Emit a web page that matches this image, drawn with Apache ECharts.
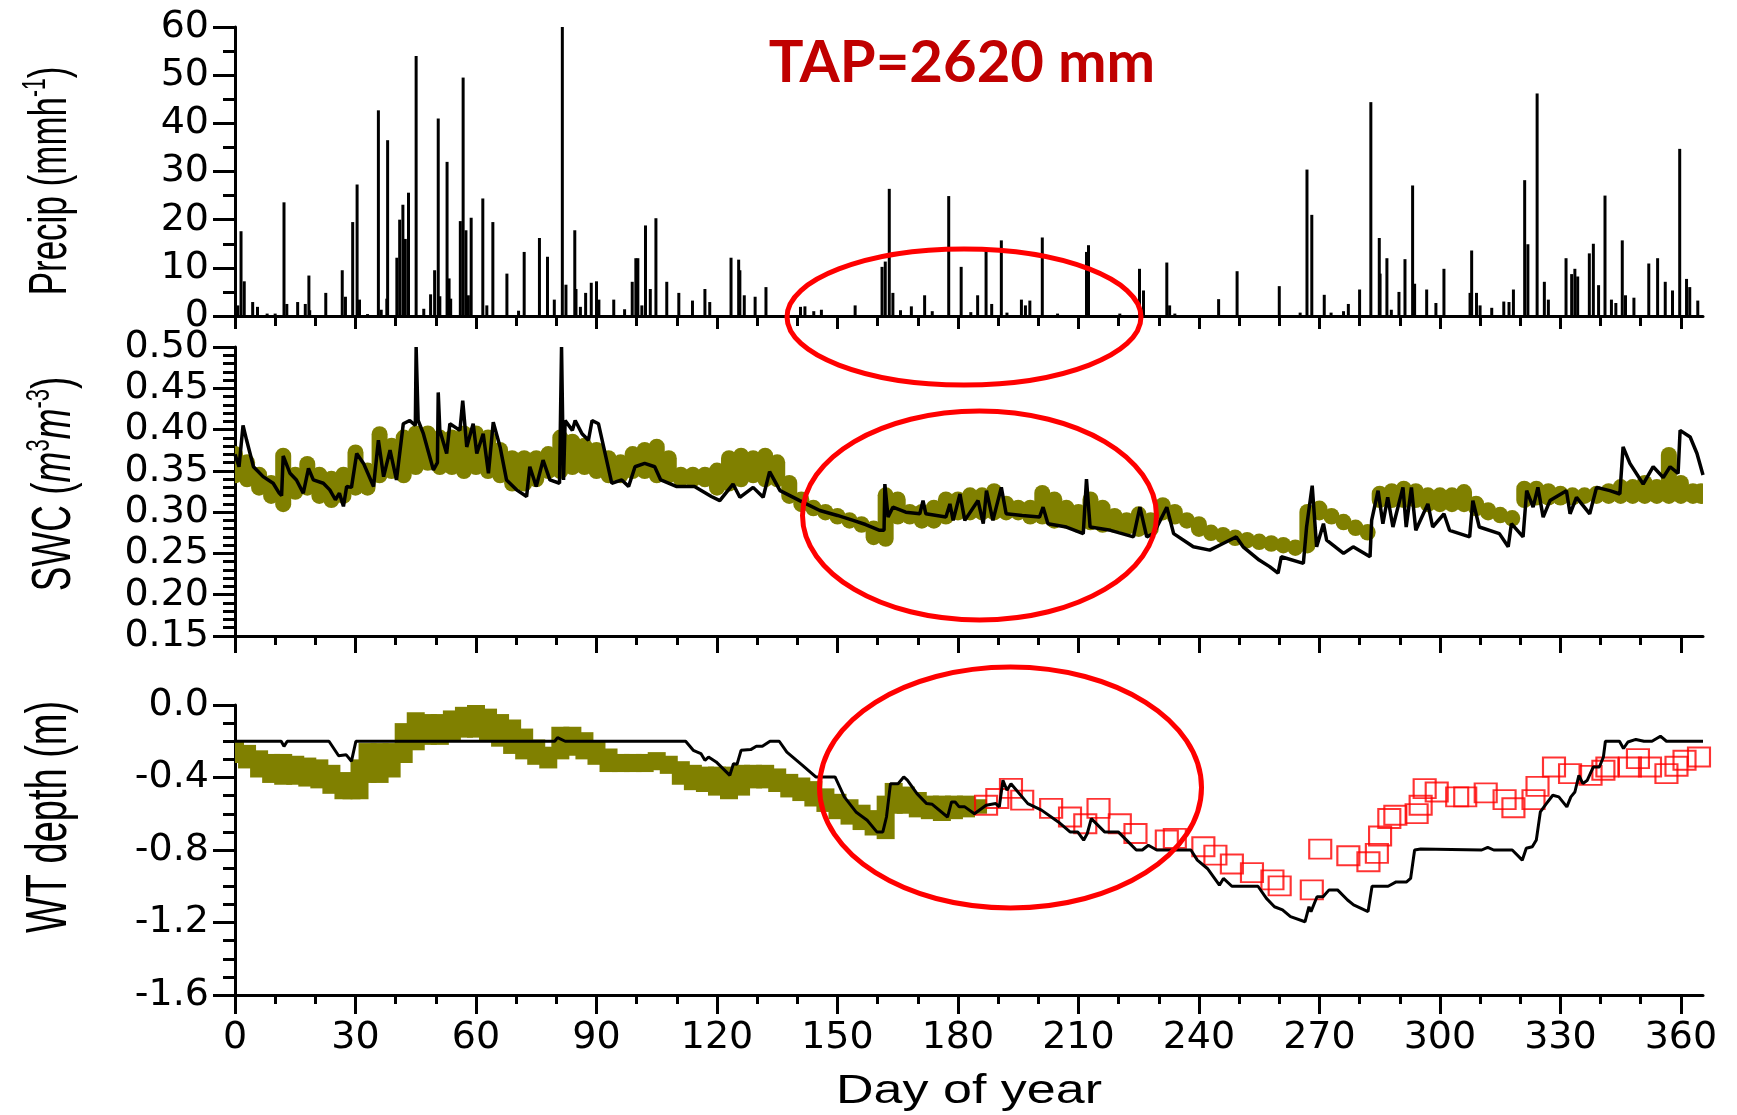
<!DOCTYPE html>
<html><head><meta charset="utf-8">
<script src="https://cdn.jsdelivr.net/npm/echarts@6/dist/echarts.min.js"></script>
<style>html,body{margin:0;padding:0;background:#fff}#c{width:1737px;height:1115px}</style>
</head><body><div id="c"></div>
<script>
// ---------- tick labels ----------
const xTickMajor = [0,30,60,90,120,150,180,210,240,270,300,330,360];
const xTickMinor = [10,20,40,50,70,80,100,110,130,140,160,170,190,200,220,230,250,260,280,290,310,320,340,350];

// ---------- precipitation (day, mm/h) ----------
const precipDay = [0.7,1.5,2.3,4.4,5.6,8,10,12.2,12.9,15.6,17.5,18.4,18.6,22.6,26.7,27.5,29.3,30.4,31,33,35.7,36.4,37.8,38,40.3,41,41.8,42.4,43.2,45.1,47,48.7,49.7,50.6,51,52.8,53.3,53.7,56.1,56.8,57.5,58.1,58.8,61.7,62.7,64.2,67.7,70.6,72,75.8,77.8,79.5,81.5,82.4,84.6,84.9,86,87.3,88.7,90,90.6,94.3,97,98.9,99.8,100.3,101.3,102.2,103.4,104.8,107.5,110.5,113.9,117,118.2,123.5,125.4,125.7,126.8,129.5,132.2,140.8,141.9,144.1,146,154.4,161.1,161.9,162.9,163.8,165.7,168.4,171.7,173.6,177.7,180.8,183.2,184.9,187,188.4,190.8,192.2,195.8,196.8,197.9,201,204.8,212,212.5,220.3,225.2,226.2,232,232.7,234,244.9,249.5,260,265.2,266.9,268.1,271.2,272.9,276,277.2,280,282.8,284.9,285.1,286.8,287.9,289.8,291.3,293.2,293.7,296.7,299,301,307.5,307.9,309.1,310,312.9,315.9,317.2,318.3,321.1,321.9,324.2,326,327,331.4,332.8,333.6,334.3,337.2,338.2,339.5,341.1,342.7,343.8,345.4,346.2,348.3,352,354.2,356.1,357.9,359.7,361.4,362.2,364.2];
const precipMm = [2.2,17.6,7.2,2.9,1.9,0.5,0.5,23.6,2.5,2.9,2.5,8.4,1.2,4.8,9.5,4,19.5,27.3,3.4,0.4,42.7,1.3,3.6,36.5,12.1,20,23.1,16,25.6,54,1.5,4.5,9.5,41,4.1,32,7.8,3.6,19.7,49.5,17.8,4.3,20.4,24.4,2.2,19.5,8.8,1.1,13.3,16.2,12.3,3.4,60,6.5,17.8,5.6,1.9,4.8,6.9,7.2,3.4,3.4,1.4,7.1,12,12,2.2,18.8,5.6,20.3,7.1,4.8,3.2,5.6,2.9,12.1,11.7,9.5,4.3,4,6,1.9,2,1,1.3,2.2,10.2,11.3,26.4,4.8,1.2,2,4.3,1,24.9,10.2,0.8,4.3,13.9,2.5,15.7,0.7,3.4,2.2,3.2,16.3,0.5,13.3,14.7,0.5,9.8,5.3,11.1,2.2,0.5,3.5,9.3,6.2,0.7,30.4,21,4.4,0.7,1,2.5,5.5,44.4,16.2,8.8,12,1.3,5,11.8,27.1,6.7,5.5,2.7,9.8,4.8,13.6,4.8,2.2,1.7,3,2.9,5.5,28.2,14.9,46.2,7.1,3.4,12,8.7,9.8,8.2,13,15,6.4,25,3.4,2.7,15.7,4.3,3.8,10.9,12,7.1,5.3,34.7,7.7,6,3.2];

// ---------- SWC observed (olive band: day, lower edge, upper edge) ----------
const swcObsDay = [0,3,6,9,12,15,18,21,24,27,30,33,36,39,42,45,48,51,54,57,60,63,66,69,72,75,78,81,84,87,90,93,96,99,102,105,108,111,114,117,120,123,126,129,132,135,138,141,144,147,150,153,156,159,162,165,168,171,174,177,180,183,186,189,192,195,198,201,204,207,210,213,216,219,222,225,228,231,234,237,240,243,246,249,252,255,258,261,264,267,270,273,276,279,282,285,288,291,294,297,300,303,306,309,312,315,318,321,324,327,330,333,336,339,342,345,348,351,354,357,360,363,365];
const swcObsLow = [.335,.33,.32,.31,.30,.315,.32,.31,.305,.31,.32,.32,.335,.34,.335,.345,.35,.345,.345,.34,.345,.34,.335,.325,.325,.33,.34,.34,.345,.345,.34,.335,.335,.34,.34,.335,.335,.33,.33,.33,.32,.325,.33,.335,.33,.33,.31,.30,.295,.29,.285,.28,.275,.26,.258,.285,.285,.28,.28,.285,.29,.29,.29,.29,.29,.29,.285,.285,.28,.28,.275,.278,.275,.275,.272,.27,.27,.29,.285,.28,.27,.266,.264,.262,.258,.256,.254,.252,.248,.25,.29,.285,.278,.272,.266,.305,.305,.305,.305,.30,.30,.30,.30,.295,.29,.288,.285,.305,.308,.308,.308,.308,.31,.31,.31,.31,.31,.31,.31,.31,.31,.31,.31];
const swcObsHigh = [.38,.37,.355,.345,.378,.355,.368,.355,.35,.355,.382,.36,.404,.39,.40,.405,.405,.40,.40,.405,.405,.40,.385,.375,.375,.375,.38,.40,.395,.39,.385,.375,.37,.38,.385,.389,.375,.355,.355,.355,.36,.375,.378,.375,.378,.37,.345,.325,.315,.31,.305,.30,.295,.29,.33,.325,.31,.31,.315,.325,.325,.33,.33,.335,.32,.315,.315,.333,.325,.315,.31,.325,.315,.305,.30,.307,.30,.318,.31,.30,.295,.284,.28,.276,.274,.272,.27,.268,.266,.31,.314,.305,.298,.29,.285,.332,.335,.338,.335,.33,.33,.33,.334,.32,.312,.305,.30,.338,.338,.335,.332,.33,.33,.332,.335,.34,.34,.345,.34,.379,.345,.335,.335];

// ---------- SWC modelled (black line) ----------
const swcModDay = [0,1,2,2.9,4.6,7,9.5,11,11.6,12,13.7,15.3,17,18.3,19.5,22,23.6,25,26,27,27.8,29,30.3,32,34.5,35.7,37,38.6,40.2,41.9,43.5,44.9,45.1,45.3,45.6,46.9,49.4,50.4,50.6,50.8,51,52.7,53.5,56,56.7,56.9,57.7,59.3,60.2,61.8,63.1,64.3,66,67.6,70.1,72.6,73.4,75,76.7,78.4,80.8,81.3,81.5,81.8,82.2,84,84.7,86.4,88,88.9,90.5,93.8,96.3,98,99.6,102,104.5,106,110,114.4,118.6,120.7,124,125.7,129,131.5,133.1,135.7,140.6,145.6,150,153.9,157,160.5,161.6,161.8,162.6,163.8,167,170.5,171.3,172,177,178,178.8,180.5,181.7,185,186.3,187.1,188.7,190.8,192,196,200.3,201.2,202.4,207,211.2,212,212.9,218,223.7,225.3,227,228.7,232,233.7,238.6,242.7,246,249.3,251,255,257.6,259.7,260.5,266,266.8,268.2,268.6,269.3,271,271.8,276,278.4,282.6,283,284.6,285.8,287,288.3,290.8,291.6,292.9,294,297,298.2,301,302.4,307.4,308.2,309.8,314.8,317,317.8,320.7,321.6,323.2,324.4,325.7,327.4,331.5,332.4,334,337.3,339,342.3,344.8,345.6,347.3,350.6,353.1,355.6,357.3,359.3,359.8,362.3,364,365.5];
const swcModVal = [.37,.355,.405,.387,.355,.343,.335,.323,.32,.368,.347,.339,.323,.353,.339,.335,.327,.315,.323,.307,.331,.33,.371,.359,.331,.387,.343,.375,.339,.407,.411,.405,.50,.50,.411,.395,.351,.36,.445,.445,.399,.371,.407,.399,.435,.435,.379,.407,.371,.395,.347,.409,.379,.339,.327,.319,.355,.331,.363,.339,.335,.50,.50,.339,.411,.399,.411,.395,.387,.411,.407,.335,.339,.331,.355,.359,.355,.339,.331,.331,.319,.314,.334,.318,.330,.318,.349,.326,.314,.302,.296,.290,.285,.278,.278,.334,.294,.306,.30,.298,.314,.298,.294,.310,.290,.322,.290,.314,.286,.326,.290,.330,.298,.296,.294,.306,.286,.282,.274,.340,.282,.278,.270,.306,.270,.274,.306,.274,.258,.254,.262,.270,.258,.242,.234,.226,.246,.238,.282,.332,.332,.258,.286,.266,.250,.258,.246,.290,.326,.286,.318,.282,.330,.282,.330,.278,.310,.282,.298,.278,.270,.314,.282,.274,.258,.286,.270,.326,.306,.330,.294,.314,.326,.298,.318,.298,.330,.326,.322,.379,.359,.334,.355,.342,.355,.347,.399,.391,.371,.345];

// ---------- WT observed, early part (olive band: day, top, bottom) ----------
const wtObsDay = [0,3,6,9,12,15,18,21,24,27,29,31,33,36,39,42,45,48,51,54,57,60,63,66,69,72,75,78,81,84,87,90,93,96,99,102,105,108,111,114,117,120,123,126,129,132,135,138,141,144,147,150,153,156,159,162,164,167,170,173,176,179,182,185];
const wtObsTop = [-0.20,-0.22,-0.25,-0.27,-0.27,-0.28,-0.29,-0.30,-0.33,-0.37,-0.38,-0.30,-0.21,-0.21,-0.21,-0.10,-0.04,-0.05,-0.05,-0.03,-0.01,0.0,-0.02,-0.05,-0.08,-0.13,-0.19,-0.23,-0.12,-0.12,-0.15,-0.20,-0.24,-0.27,-0.27,-0.27,-0.26,-0.28,-0.31,-0.33,-0.34,-0.34,-0.34,-0.33,-0.33,-0.33,-0.35,-0.38,-0.40,-0.42,-0.46,-0.49,-0.52,-0.55,-0.58,-0.50,-0.43,-0.45,-0.48,-0.50,-0.50,-0.50,-0.50,-0.52];
const wtObsBottom = [-0.32,-0.35,-0.40,-0.43,-0.44,-0.44,-0.45,-0.46,-0.49,-0.52,-0.52,-0.52,-0.43,-0.43,-0.40,-0.32,-0.25,-0.22,-0.22,-0.20,-0.18,-0.18,-0.20,-0.23,-0.27,-0.30,-0.33,-0.35,-0.30,-0.28,-0.30,-0.33,-0.37,-0.37,-0.37,-0.37,-0.36,-0.38,-0.44,-0.47,-0.48,-0.50,-0.52,-0.50,-0.46,-0.46,-0.48,-0.51,-0.53,-0.56,-0.59,-0.63,-0.66,-0.69,-0.72,-0.74,-0.60,-0.60,-0.62,-0.63,-0.64,-0.63,-0.62,-0.60];

// ---------- WT observed, late part (red open squares) ----------
const wtSqDay = [187,189.8,193.2,196,203.2,207.9,211.7,215,220.3,224.2,232,234,241.1,244.1,248.2,253.2,258.3,260.1,268.1,270.2,277.2,282.2,284.3,285.1,287.4,288.9,294.2,295.2,296.2,299.2,304.3,306.3,311.4,316.1,318.3,323.3,324.3,328.4,332.4,337.5,340.7,341.7,347.3,349.3,352.3,356.4,358.9,360.9,364.5];
const wtSqVal = [-0.553,-0.516,-0.46,-0.525,-0.57,-0.618,-0.655,-0.57,-0.655,-0.709,-0.745,-0.736,-0.782,-0.828,-0.877,-0.925,-0.965,-0.998,-1.02,-0.795,-0.832,-0.865,-0.819,-0.723,-0.626,-0.608,-0.599,-0.553,-0.461,-0.48,-0.507,-0.507,-0.485,-0.522,-0.567,-0.522,-0.449,-0.342,-0.379,-0.388,-0.36,-0.342,-0.342,-0.296,-0.342,-0.379,-0.338,-0.305,-0.287];

// ---------- WT modelled (black line) ----------
const wtModDay = [0,11.5,12.2,13,23.4,25.8,27.7,29,30.1,79.6,80.3,82.2,112.2,114.1,116,117,117.9,119.8,123.2,124.1,125,126,128.4,129.8,131.3,133.2,135.5,137.4,141.3,144.6,149.4,151.7,154.6,157.4,159.8,161.3,162.2,163.2,165.1,166.5,167.4,169.8,172.2,173.6,177.4,178.4,179.3,180.3,181.7,184.1,187,189.4,190.3,191.2,192.2,193.2,197.4,200.8,205,207.9,209.8,211.3,212.2,213.2,216.5,219.9,222.4,224.4,225.9,227.4,229.5,238,239.6,242.1,245.1,246.1,248.2,254.7,256.8,258.8,260.8,262.8,266.4,267.4,267.9,269.4,270.9,272.4,274.5,277,278.5,282.1,283.1,287.1,289.1,291.7,292.7,293.7,295.2,310.4,311.9,313.4,318,320.5,321.5,323,324,325,326.5,328.1,329.6,331.6,332.6,333.6,334.6,335.6,336.7,338.2,339.7,340.7,341.2,344.7,345.7,346.8,348.8,350.8,352.8,354.9,356.4,365.5];
const wtModVal = [-0.2,-0.2,-0.228,-0.2,-0.2,-0.28,-0.275,-0.31,-0.2,-0.2,-0.18,-0.2,-0.2,-0.25,-0.268,-0.305,-0.287,-0.314,-0.388,-0.324,-0.327,-0.25,-0.246,-0.228,-0.228,-0.2,-0.2,-0.26,-0.333,-0.397,-0.397,-0.507,-0.59,-0.636,-0.7,-0.7,-0.618,-0.434,-0.434,-0.397,-0.415,-0.489,-0.544,-0.548,-0.618,-0.535,-0.535,-0.562,-0.562,-0.6,-0.553,-0.544,-0.562,-0.415,-0.47,-0.434,-0.544,-0.58,-0.645,-0.7,-0.7,-0.746,-0.709,-0.627,-0.7,-0.7,-0.755,-0.8,-0.8,-0.774,-0.8,-0.8,-0.856,-0.902,-0.994,-0.957,-1.0,-1.0,-1.067,-1.113,-1.13,-1.168,-1.196,-1.113,-1.14,-1.058,-1.058,-1.02,-1.02,-1.076,-1.103,-1.14,-1.0,-1.0,-0.976,-0.976,-0.957,-0.8,-0.795,-0.8,-0.785,-0.8,-0.8,-0.856,-0.79,-0.782,-0.745,-0.59,-0.544,-0.498,-0.507,-0.562,-0.507,-0.48,-0.388,-0.434,-0.415,-0.342,-0.342,-0.287,-0.2,-0.2,-0.24,-0.204,-0.19,-0.2,-0.2,-0.172,-0.2,-0.2];

// ---------- chart ----------
const OLIVE = '#808000';
const FONT = 'DejaVu Sans';
const grids = [
  {left:235, top:27, width:1468, height:289},
  {left:235, top:347, width:1468, height:289},
  {left:235, top:705, width:1468, height:290}
];
function xAxesFor(gi, showLabels, majorLen, minorLen){
  return [{
    type:'value', gridIndex:gi, min:0, max:365.5, interval:30, position:'bottom',
    axisLine:{show:true, onZero:false, lineStyle:{color:'#000', width:3}},
    axisTick:{show:true, customValues:xTickMajor, length:majorLen, lineStyle:{color:'#000', width:3}},
    axisLabel:{show:showLabels, customValues:xTickMajor, color:'#000', fontFamily:FONT, fontSize:38, margin:24},
    splitLine:{show:false}
  },{
    type:'value', gridIndex:gi, min:0, max:365.5, interval:10, position:'bottom',
    axisLine:{show:false, onZero:false},
    axisTick:{show:true, customValues:xTickMinor, length:minorLen, lineStyle:{color:'#000', width:3}},
    axisLabel:{show:false}, splitLine:{show:false}
  }];
}
const yCommon = {
  axisLine:{show:true, onZero:false, lineStyle:{color:'#000', width:3}},
  axisTick:{show:true, length:22, lineStyle:{color:'#000', width:3}},
  splitLine:{show:false}
};
const option = {
  animation:false,
  backgroundColor:'#fff',
  grid:grids,
  xAxis:[].concat(xAxesFor(0,false,13,10), xAxesFor(1,false,17,9), xAxesFor(2,true,19,9)),
  yAxis:[
    Object.assign({type:'value', gridIndex:0, min:0, max:60, interval:10,
      minorTick:{show:true, splitNumber:2, length:12, lineStyle:{color:'#000', width:3}},
      axisLabel:{color:'#000', fontFamily:FONT, fontSize:38, margin:26}}, yCommon),
    Object.assign({type:'value', gridIndex:1, min:0.15, max:0.5, interval:0.05,
      minorTick:{show:true, splitNumber:5, length:12, lineStyle:{color:'#000', width:3}},
      axisLabel:{color:'#000', fontFamily:FONT, fontSize:38, margin:26, formatter:v=>v.toFixed(2)}}, yCommon),
    Object.assign({type:'value', gridIndex:2, min:-1.6, max:0, interval:0.4,
      minorTick:{show:true, splitNumber:4, length:12, lineStyle:{color:'#000', width:3}},
      axisLabel:{color:'#000', fontFamily:FONT, fontSize:38, margin:26, formatter:v=>v.toFixed(1)}}, yCommon)
  ],
  series:[
    {type:'bar', name:'Precip', xAxisIndex:0, yAxisIndex:0, barWidth:3,
      data:precipDay.map((d,i)=>[d, precipMm[i]]), itemStyle:{color:'#000'}},
    {type:'custom', name:'SWC obs', xAxisIndex:2, yAxisIndex:1, clip:true,
      data:swcObsDay.map((d,i)=>[d, swcObsLow[i], swcObsHigh[i]]),
      encode:{x:0, y:[1,2]},
      renderItem:function(params, api){
        const pl = api.coord([api.value(0), api.value(1)]);
        const ph = api.coord([api.value(0), api.value(2)]);
        const r = 8;
        let y1 = pl[1]-r, y2 = ph[1]+r;
        if (y1 - y2 < 0.5) { const m=(y1+y2)/2; y1=m+0.25; y2=m-0.25; }
        return {type:'line', shape:{x1:pl[0], y1:y1, x2:pl[0], y2:y2},
          style:{stroke:OLIVE, lineWidth:16, lineCap:'round', fill:null}};
      }, z:2},
    {type:'line', name:'SWC model', xAxisIndex:2, yAxisIndex:1, showSymbol:false, symbol:'none',
      data:swcModDay.map((d,i)=>[d, swcModVal[i]]), lineStyle:{color:'#000', width:3.5}, z:5},
    {type:'custom', name:'WT obs', xAxisIndex:4, yAxisIndex:2, clip:true,
      data:wtObsDay.map((d,i)=>[d, wtObsTop[i], wtObsBottom[i]]),
      encode:{x:0, y:[1,2]},
      renderItem:function(params, api){
        const pt = api.coord([api.value(0), api.value(1)]);
        const pb = api.coord([api.value(0), api.value(2)]);
        return {type:'rect', shape:{x:pt[0]-9, y:pt[1], width:18, height:pb[1]-pt[1]},
          style:{fill:OLIVE}};
      }, z:2},
    {type:'scatter', name:'WT obs 2', xAxisIndex:4, yAxisIndex:2, symbol:'rect', symbolSize:[22,19],
      data:wtSqDay.map((d,i)=>[d, wtSqVal[i]]),
      itemStyle:{color:'rgba(255,255,255,0)', borderColor:'#FF0000', borderWidth:2}, z:3},
    {type:'line', name:'WT model', xAxisIndex:4, yAxisIndex:2, showSymbol:false, symbol:'none',
      data:wtModDay.map((d,i)=>[d, wtModVal[i]]), lineStyle:{color:'#000', width:3}, z:5}
  ],
  graphic:{elements:[
    {type:'text', x:962, y:63, z:50, style:{text:'TAP=2620 mm', fill:'#C00000', font:'bold 58px Lato',
      align:'center', verticalAlign:'middle'}},
    {type:'text', x:51, y:181, rotation:Math.PI/2, scaleY:1.55, z:50,
      style:{text:'{a|Precip (mmh}{s|-1}{a|)}', align:'center', verticalAlign:'middle',
        rich:{a:{fontFamily:'Liberation Sans', fontSize:35, fill:'#000', lineHeight:40},
              s:{fontFamily:'Liberation Sans', fontSize:21, fill:'#000', verticalAlign:'top'}}}},
    {type:'text', x:55, y:484, rotation:Math.PI/2, scaleY:1.5, z:50,
      style:{text:'{a|SWC (}{i|m}{s|3}{i|m}{s|-3}{a|)}', align:'center', verticalAlign:'middle',
        rich:{a:{fontFamily:'Liberation Sans', fontSize:37, fill:'#000', lineHeight:42},
              i:{fontFamily:'Liberation Sans', fontSize:37, fontStyle:'italic', fill:'#000', lineHeight:42},
              s:{fontFamily:'Liberation Sans', fontSize:22, fill:'#000', verticalAlign:'top'}}}},
    {type:'text', x:50, y:817, rotation:Math.PI/2, scaleY:1.5, z:50,
      style:{text:'WT depth (m)', fontFamily:'Liberation Sans', fontSize:38, fill:'#000',
        align:'center', verticalAlign:'middle'}},
    {type:'text', x:969, y:1092, scaleX:1.3, z:50,
      style:{text:'Day of year', fontFamily:'Liberation Sans', fontSize:40, fill:'#000',
        align:'center', verticalAlign:'middle'}},
    {type:'ellipse', shape:{cx:964, cy:317, rx:177, ry:68}, z:60,
      style:{fill:'none', stroke:'#FF0000', lineWidth:5}},
    {type:'ellipse', shape:{cx:979.5, cy:515.5, rx:177, ry:104.5}, z:60,
      style:{fill:'none', stroke:'#FF0000', lineWidth:5}},
    {type:'ellipse', shape:{cx:1010.5, cy:787.5, rx:191, ry:120.5}, z:60,
      style:{fill:'none', stroke:'#FF0000', lineWidth:5}}
  ]}
};
const chart = echarts.init(document.getElementById('c'), null, {renderer:'canvas'});
chart.setOption(option);
</script></body></html>
